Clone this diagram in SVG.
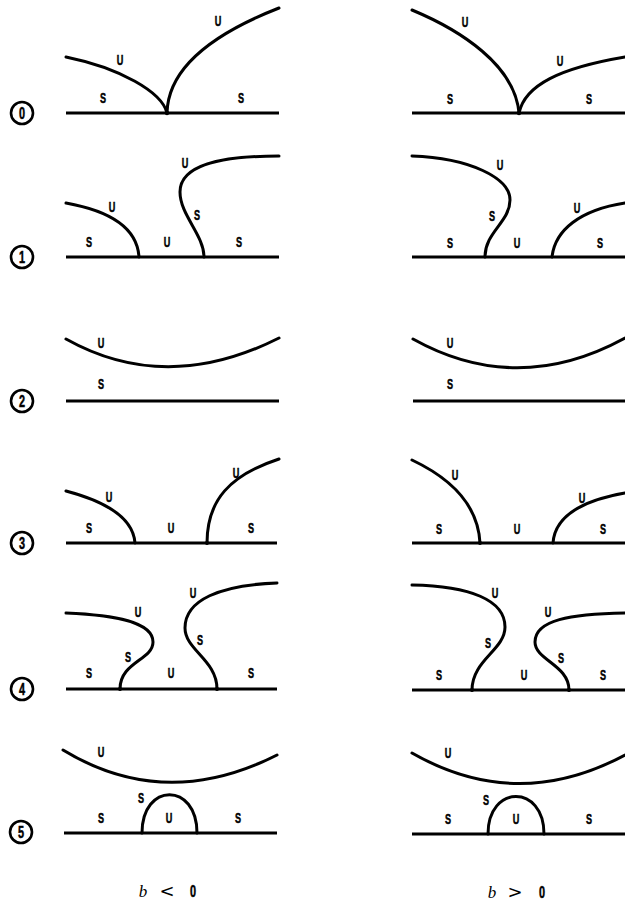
<svg xmlns="http://www.w3.org/2000/svg" width="625" height="903" viewBox="0 0 625 903">
<style>
.c{fill:none;stroke:#000;stroke-width:3;stroke-linecap:round}
.b{fill:none;stroke:#000;stroke-width:3}
.d{fill:#000}
.l{font-family:"Liberation Sans",Arial,sans-serif;font-weight:bold;font-size:14px;text-anchor:middle;fill:#000;stroke:#000;stroke-width:0.5;opacity:.995}
.n{fill:none;stroke:#000;stroke-width:2.6}
.nt{font-family:"Liberation Sans",Arial,sans-serif;font-weight:bold;font-size:16px;text-anchor:middle;fill:#000;stroke:#000;stroke-width:0.5;opacity:.995}
.bt{font-family:"Liberation Serif",serif;font-style:italic;font-size:17px;fill:#000;text-anchor:middle}
.op{font-family:"DejaVu Sans",sans-serif;font-size:18px;fill:#000;text-anchor:middle}
.z{font-family:"Liberation Sans",Arial,sans-serif;font-weight:bold;font-size:16px;fill:#000;text-anchor:middle;stroke:#000;stroke-width:0.5;opacity:.995}
</style>
<g id="labels-rows">
<g id="row0-num"><circle class="n" cx="22" cy="113" r="11"/><text class="nt" transform="translate(22,118.7) scale(.68,1)">0</text></g>
<g id="row1-num"><circle class="n" cx="22" cy="257" r="11"/><text class="nt" transform="translate(22,262.7) scale(.68,1)">1</text></g>
<g id="row2-num"><circle class="n" cx="22" cy="401" r="11"/><text class="nt" transform="translate(22,406.7) scale(.68,1)">2</text></g>
<g id="row3-num"><circle class="n" cx="22" cy="543" r="11"/><text class="nt" transform="translate(22,548.7) scale(.68,1)">3</text></g>
<g id="row4-num"><circle class="n" cx="22" cy="689" r="11"/><text class="nt" transform="translate(22,694.7) scale(.68,1)">4</text></g>
<g id="row5-num"><circle class="n" cx="21" cy="832" r="11"/><text class="nt" transform="translate(21,837.7) scale(.68,1)">5</text></g>
</g>

<g id="p0L">
<path class="b" d="M66,113 H279"/>
<path class="c" d="M66,57 C120,68 162,92 167,113"/>
<path class="c" d="M167,113 C168,70 210,35 279,8"/>
<circle class="d" cx="167" cy="113" r="2.2"/>
<text class="l" transform="translate(120,65) scale(.65,1)">U</text><text class="l" transform="translate(218,26) scale(.65,1)">U</text>
<text class="l" transform="translate(103,103) scale(.65,1)">S</text><text class="l" transform="translate(241,103) scale(.65,1)">S</text>
</g>
<g id="p0R">
<path class="b" d="M412,113 H625"/>
<path class="c" d="M412,10 C460,30 515,65 519,113"/>
<path class="c" d="M519,113 C525,85 560,68 625,57"/>
<circle class="d" cx="519" cy="113" r="2.2"/>
<text class="l" transform="translate(465,27) scale(.65,1)">U</text><text class="l" transform="translate(560,66) scale(.65,1)">U</text>
<text class="l" transform="translate(450,104) scale(.65,1)">S</text><text class="l" transform="translate(589,104) scale(.65,1)">S</text>
</g>

<g id="p1L">
<path class="b" d="M66,257 H279"/>
<path class="c" d="M66,203 C105,210 137,225 139,257"/>
<path class="c" d="M204,257 C204,235 180,215 180,192 C180,165 220,156 279,156"/>
<text class="l" transform="translate(112,212) scale(.65,1)">U</text><text class="l" transform="translate(89,247) scale(.65,1)">S</text>
<text class="l" transform="translate(167,247) scale(.65,1)">U</text><text class="l" transform="translate(197,220) scale(.65,1)">S</text>
<text class="l" transform="translate(185,168) scale(.65,1)">U</text><text class="l" transform="translate(239,247) scale(.65,1)">S</text>
</g>
<g id="p1R">
<path class="b" d="M412,257 H625"/>
<path class="c" d="M412,156 C470,158 510,178 510,200 C510,222 485,232 485,257"/>
<path class="c" d="M552,257 C555,230 580,210 625,203"/>
<text class="l" transform="translate(500,170) scale(.65,1)">U</text><text class="l" transform="translate(492,221) scale(.65,1)">S</text>
<text class="l" transform="translate(450,248) scale(.65,1)">S</text><text class="l" transform="translate(517,248) scale(.65,1)">U</text>
<text class="l" transform="translate(577,213) scale(.65,1)">U</text><text class="l" transform="translate(600,248) scale(.65,1)">S</text>
</g>

<g id="p2L">
<path class="b" d="M66,401 H279"/>
<path class="c" d="M66,339 Q166,395 279,338"/>
<text class="l" transform="translate(101,348) scale(.65,1)">U</text><text class="l" transform="translate(101,389) scale(.65,1)">S</text>
</g>
<g id="p2R">
<path class="b" d="M413,401 H625"/>
<path class="c" d="M413,339 Q517,397 625,338"/>
<text class="l" transform="translate(450,348) scale(.65,1)">U</text><text class="l" transform="translate(450,389) scale(.65,1)">S</text>
</g>

<g id="p3L">
<path class="b" d="M66,543 H277"/>
<path class="c" d="M66,491 C100,500 133,515 135,543"/>
<path class="c" d="M207,543 C207,500 230,475 279,459"/>
<circle class="d" cx="207" cy="543" r="2"/>
<text class="l" transform="translate(109,502) scale(.65,1)">U</text><text class="l" transform="translate(89,533) scale(.65,1)">S</text>
<text class="l" transform="translate(171,533) scale(.65,1)">U</text><text class="l" transform="translate(251,533) scale(.65,1)">S</text>
<text class="l" transform="translate(236,478) scale(.65,1)">U</text>
</g>
<g id="p3R">
<path class="b" d="M412,543 H625"/>
<path class="c" d="M412,460 C450,478 478,505 480,543"/>
<path class="c" d="M553,543 C555,515 585,500 625,493"/>
<circle class="d" cx="480" cy="543" r="2"/>
<text class="l" transform="translate(455,480) scale(.65,1)">U</text><text class="l" transform="translate(582,503) scale(.65,1)">U</text>
<text class="l" transform="translate(439,534) scale(.65,1)">S</text><text class="l" transform="translate(517,534) scale(.65,1)">U</text>
<text class="l" transform="translate(603,534) scale(.65,1)">S</text>
</g>

<g id="p4L">
<path class="b" d="M66,689 H277"/>
<path class="c" d="M66,613 C115,615 153,622 153,642 C153,660 120,662 120,689"/>
<path class="c" d="M217,689 C217,660 185,650 185,628 C185,600 220,585 277,583"/>
<circle class="d" cx="120" cy="689" r="2"/><circle class="d" cx="217" cy="689" r="2"/>
<text class="l" transform="translate(138,617) scale(.65,1)">U</text><text class="l" transform="translate(128,662) scale(.65,1)">S</text>
<text class="l" transform="translate(89,678) scale(.65,1)">S</text><text class="l" transform="translate(171,678) scale(.65,1)">U</text>
<text class="l" transform="translate(200,645) scale(.65,1)">S</text><text class="l" transform="translate(193,598) scale(.65,1)">U</text>
<text class="l" transform="translate(251,678) scale(.65,1)">S</text>
</g>
<g id="p4R">
<path class="b" d="M412,690 H625"/>
<path class="c" d="M412,585 C470,586 505,600 505,627 C505,650 472,660 472,690"/>
<path class="c" d="M569,690 C569,665 535,660 535,642 C535,620 570,614 625,613"/>
<circle class="d" cx="472" cy="690" r="2"/><circle class="d" cx="569" cy="690" r="2"/>
<text class="l" transform="translate(495,598) scale(.65,1)">U</text><text class="l" transform="translate(488,648) scale(.65,1)">S</text>
<text class="l" transform="translate(439,680) scale(.65,1)">S</text><text class="l" transform="translate(524,680) scale(.65,1)">U</text>
<text class="l" transform="translate(548,617) scale(.65,1)">U</text><text class="l" transform="translate(561,663) scale(.65,1)">S</text>
<text class="l" transform="translate(603,680) scale(.65,1)">S</text>
</g>

<g id="p5L">
<path class="b" d="M64,833 H277"/>
<path class="c" d="M63,750 Q165,812 277,755"/>
<path class="c" d="M142,833 C142,782 197,782 197,833"/>
<text class="l" transform="translate(101,757) scale(.65,1)">U</text><text class="l" transform="translate(141,803) scale(.65,1)">S</text>
<text class="l" transform="translate(101,823) scale(.65,1)">S</text><text class="l" transform="translate(169,823) scale(.65,1)">U</text>
<text class="l" transform="translate(238,823) scale(.65,1)">S</text>
</g>
<g id="p5R">
<path class="b" d="M412,834 H625"/>
<path class="c" d="M412,753 Q517,813 625,755"/>
<path class="c" d="M488,834 C488,784 544,784 544,834"/>
<text class="l" transform="translate(448,758) scale(.65,1)">U</text><text class="l" transform="translate(486,805) scale(.65,1)">S</text>
<text class="l" transform="translate(448,824) scale(.65,1)">S</text><text class="l" transform="translate(516,824) scale(.65,1)">U</text>
<text class="l" transform="translate(589,824) scale(.65,1)">S</text>
</g>

<g id="captions">
<text class="bt" x="143" y="897">b</text><text class="op" x="167" y="897">&lt;</text><text class="z" transform="translate(193,897) scale(.68,1)">0</text>
<text class="bt" x="492" y="898">b</text><text class="op" x="515" y="898">&gt;</text><text class="z" transform="translate(542,898) scale(.68,1)">0</text>
</g>
</svg>
